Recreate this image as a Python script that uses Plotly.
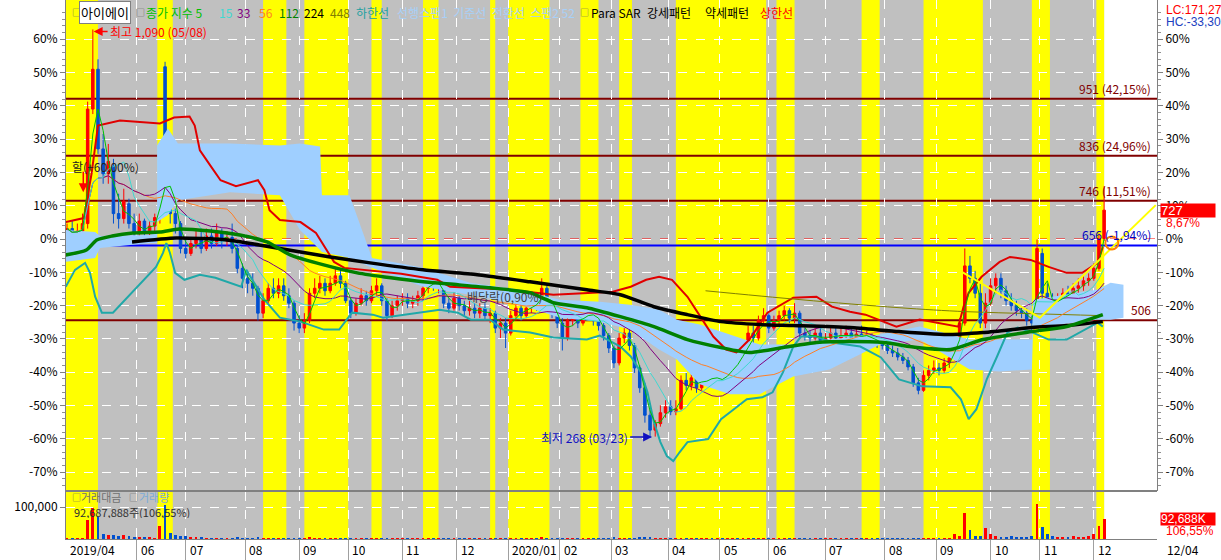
import numpy as np
import pandas as pd
import plotly.graph_objects as go

# ---------------- data ----------------
start_date = "2019-04-22"
end_date = "2020-12-04"
krx_holidays = ["2019-05-01", "2019-05-06", "2019-06-06", "2019-08-15", "2019-09-12", "2019-09-13",
                "2019-10-03", "2019-10-09", "2019-12-25", "2019-12-31", "2020-01-01", "2020-01-24",
                "2020-01-27", "2020-04-15", "2020-04-30", "2020-05-01", "2020-05-05", "2020-08-17",
                "2020-09-30", "2020-10-01", "2020-10-02", "2020-10-09"]
base_price = 669      # previous close (0 %)
last_close = 727

# two-trading-day candles (won)
opens = [665, 690, 675, 685, 700, 930, 1010, 850, 800, 815,
         720, 710, 740, 700, 680, 705, 680, 695, 712, 1015,
         820, 720, 700, 650, 640, 660, 672, 650, 675, 660,
         682, 665, 672, 650, 610, 590, 580, 570, 520, 545,
         570, 560, 575, 555, 540, 500, 490, 505, 560, 570,
         580, 565, 580, 595, 580, 545, 520, 540, 555, 545,
         565, 575, 545, 515, 535, 545, 550, 540, 545, 555,
         570, 590, 575, 580, 540, 530, 550, 535, 525, 530,
         520, 530, 515, 520, 490, 500, 480, 515, 530, 515,
         530, 545, 535, 570, 545, 520, 500, 470, 505, 510,
         500, 515, 530, 505, 495, 475, 450, 420, 470, 480,
         455, 410, 370, 315, 285, 298, 320, 332, 322, 328,
         385, 375, 390, 370, 385, 395, 385, 390, 385, 405,
         425, 420, 455, 480, 470, 505, 515, 490, 505, 515,
         525, 510, 520, 480, 475, 470, 480, 465, 470, 480,
         470, 475, 480, 470, 478, 472, 475, 465, 458, 455,
         445, 440, 432, 425, 412, 380, 365, 395, 405, 410,
         405, 420, 430, 470, 500, 615, 590, 560, 500, 540,
         575, 590, 565, 545, 535, 525, 520, 505, 500, 640,
         560, 545, 535, 550, 560, 555, 570, 575, 585, 590,
         610, 670]
highs = [700, 705, 700, 720, 945, 1090, 1030, 880, 860, 830,
         760, 770, 750, 720, 720, 710, 705, 720, 790, 1025,
         830, 730, 705, 670, 670, 690, 690, 690, 690, 700,
         690, 685, 700, 660, 620, 600, 600, 575, 560, 580,
         590, 590, 590, 570, 545, 515, 520, 570, 590, 595,
         590, 595, 610, 610, 585, 550, 550, 570, 565, 575,
         590, 580, 550, 545, 555, 560, 560, 555, 565, 580,
         600, 600, 605, 585, 550, 570, 555, 545, 545, 540,
         540, 540, 530, 525, 510, 510, 525, 545, 545, 545,
         555, 560, 590, 575, 550, 525, 510, 515, 525, 520,
         525, 540, 535, 510, 500, 480, 455, 480, 495, 490,
         460, 415, 380, 325, 305, 335, 345, 345, 345, 395,
         400, 400, 395, 395, 410, 405, 400, 398, 415, 435,
         440, 465, 495, 495, 515, 530, 520, 515, 525, 535,
         530, 540, 525, 490, 485, 490, 490, 480, 490, 490,
         490, 495, 490, 490, 495, 485, 480, 475, 468, 460,
         455, 450, 440, 432, 418, 390, 405, 415, 425, 420,
         430, 440, 480, 510, 650, 635, 605, 580, 560, 590,
         600, 600, 575, 560, 545, 535, 530, 515, 668, 650,
         580, 560, 560, 570, 575, 580, 590, 595, 600, 620,
         680, 775]
lows = [655, 665, 668, 675, 690, 920, 840, 780, 780, 700,
        690, 700, 690, 660, 670, 665, 670, 685, 700, 800,
        700, 680, 640, 630, 635, 650, 640, 645, 650, 655,
        650, 655, 640, 600, 570, 560, 555, 505, 510, 540,
        550, 550, 545, 530, 485, 480, 480, 500, 550, 560,
        555, 560, 575, 570, 540, 510, 515, 535, 535, 540,
        555, 535, 505, 510, 525, 535, 530, 530, 535, 545,
        560, 565, 560, 530, 520, 525, 525, 515, 515, 510,
        510, 505, 500, 480, 470, 450, 475, 505, 505, 510,
        520, 525, 530, 535, 510, 490, 445, 465, 495, 490,
        495, 505, 495, 485, 465, 440, 410, 415, 460, 445,
        400, 360, 300, 268, 272, 292, 310, 315, 315, 325,
        365, 365, 360, 365, 380, 375, 378, 375, 380, 400,
        410, 415, 450, 455, 465, 500, 480, 485, 495, 505,
        500, 500, 470, 465, 460, 465, 455, 430, 465, 460,
        462, 468, 460, 462, 465, 462, 455, 450, 447, 438,
        432, 425, 418, 405, 372, 357, 362, 385, 398, 395,
        400, 410, 425, 460, 495, 580, 550, 490, 490, 535,
        560, 550, 535, 525, 515, 510, 495, 485, 495, 540,
        530, 525, 530, 540, 545, 550, 560, 565, 575, 585,
        605, 665]
closes = [690, 675, 685, 700, 930, 1010, 850, 800, 825, 720,
          710, 745, 700, 680, 705, 680, 695, 712, 785, 820,
          720, 700, 650, 640, 660, 672, 650, 675, 660, 682,
          665, 672, 650, 610, 590, 580, 570, 520, 545, 570,
          560, 575, 555, 540, 500, 490, 505, 560, 570, 580,
          565, 580, 595, 580, 545, 520, 540, 555, 545, 565,
          575, 545, 515, 535, 545, 550, 540, 545, 555, 570,
          590, 575, 580, 540, 530, 550, 535, 525, 530, 520,
          530, 515, 520, 490, 500, 480, 515, 530, 515, 530,
          545, 535, 570, 545, 520, 500, 470, 505, 510, 500,
          515, 530, 505, 495, 475, 450, 420, 470, 480, 455,
          410, 370, 315, 285, 298, 320, 332, 322, 328, 385,
          375, 390, 370, 385, 395, 385, 390, 385, 405, 425,
          420, 455, 480, 470, 505, 515, 490, 505, 515, 525,
          510, 520, 480, 475, 470, 480, 465, 470, 480, 470,
          475, 480, 470, 478, 472, 475, 465, 458, 455, 445,
          440, 432, 425, 412, 380, 365, 395, 405, 410, 405,
          420, 430, 470, 500, 615, 590, 560, 500, 540, 575,
          590, 565, 545, 535, 525, 520, 505, 500, 650, 560,
          545, 535, 550, 560, 555, 570, 575, 585, 590, 610,
          669, 727]
# volume per candle, thousand shares
volumes_k = [3, 2, 2, 3, 60, 97, 69, 15, 12, 14,
             10, 12, 9, 6, 5, 4, 4, 3, 40, 106,
             20, 14, 10, 8, 6, 5, 4, 3, 3, 3,
             2, 2, 3, 4, 3, 2, 2, 4, 3, 2,
             2, 2, 2, 2, 3, 2, 2, 5, 3, 2,
             2, 2, 3, 2, 2, 2, 1, 2, 2, 2,
             2, 2, 3, 2, 1, 1, 2, 1, 2, 2,
             3, 2, 2, 2, 1, 2, 1, 1, 2, 1,
             1, 2, 1, 2, 2, 3, 2, 2, 1, 2,
             2, 2, 6, 3, 2, 2, 3, 2, 1, 1,
             1, 2, 1, 1, 2, 3, 4, 3, 2, 2,
             3, 4, 4, 5, 3, 2, 2, 2, 1, 3,
             2, 2, 1, 1, 2, 1, 1, 1, 2, 2,
             2, 3, 3, 2, 3, 2, 2, 2, 2, 2,
             2, 3, 2, 2, 1, 1, 1, 2, 1, 1,
             1, 1, 1, 1, 2, 1, 1, 1, 1, 1,
             1, 1, 1, 2, 3, 2, 2, 2, 1, 1,
             2, 2, 17, 10, 81, 28, 8, 10, 34, 15,
             8, 7, 6, 8, 5, 6, 5, 8, 109, 37,
             15, 8, 6, 7, 6, 8, 7, 6, 8, 16,
             40, 62]

# indicator lines (trading-day index, won)
bb_up_x = [0, 7, 10, 12.5, 21, 36.5, 42, 48, 50, 52, 56, 60, 66, 74.5, 77, 79, 83, 91, 97, 100.5,
           104, 108, 130, 144, 149, 172, 189, 212, 219, 225, 230, 235, 241, 246, 251, 256, 260, 265,
           272, 282, 291, 297, 304, 310, 317, 322, 331, 343, 346, 348, 350, 355, 362, 366, 374, 381,
           388, 394, 400, 402]
bb_up_y = [703, 711, 800, 897, 907, 901, 913, 915, 897, 847, 817, 787, 775, 787, 767, 727, 707, 703, 681, 653,
           623, 611, 599, 587, 573, 567, 557, 563, 573, 587, 593, 587, 553, 513, 473, 447, 441, 467,
           521, 551, 553, 533, 523, 517, 503, 493, 507, 497, 493, 533, 561, 593, 623, 633, 627, 613,
           601, 601, 621, 653]
bb_lo_x = [0, 3.6, 7.5, 9.4, 11.4, 14, 18.3, 23, 29, 35, 37.7, 39, 40.4, 42.4, 46, 52, 58, 64, 68, 70,
           73, 77, 83, 91, 100, 106, 111, 119, 123, 138.5, 145, 152, 157, 164.5, 169.5, 180, 189, 202,
           207, 215, 219, 223, 225.5, 228, 230.5, 233, 235.5, 238, 241, 249, 254, 259, 264, 270, 274,
           278, 282, 285, 291, 297, 308, 316, 323, 332, 343, 347, 350, 353, 357, 361, 365, 369, 374,
           381, 388, 400, 402]
bb_lo_y = [573, 607, 621, 601, 553, 521, 521, 547, 581, 613, 641, 661, 641, 601, 587, 597, 591, 581, 573, 607,
           581, 547, 511, 503, 487, 487, 521, 517, 511, 523, 527, 521, 507, 507, 487, 481, 471, 467,
           475, 453, 433, 401, 361, 301, 261, 233, 223, 241, 261, 267, 307, 327, 347, 351, 361,
           401, 453, 473, 473, 461, 453, 431, 387, 373, 371, 347, 307, 327, 387, 433, 481, 491, 483,
           467, 467, 501, 493]
ma112_x = [0, 8, 12, 18, 26, 36.5, 44, 56, 67.5, 78, 87, 100, 113, 126, 138.5, 152, 164.5, 180, 189, 202,
           215, 228, 241, 254, 265, 278, 291, 304, 317, 330, 343, 355.5, 374.5, 388, 402]
ma112_y = [637, 647, 667, 675, 681, 683, 689, 685, 677, 663, 637, 617, 601, 591, 583, 577, 571, 561, 541, 531,
           513, 493, 467, 451, 441, 451, 461, 463, 461, 451, 447, 467, 483, 493, 517]
ma224_x = [25.7, 43, 62.5, 75, 91, 102.5, 118, 138.5, 159.5, 180, 202, 215, 228, 241, 254, 269, 282, 304,
           323, 343, 355.5, 374.5, 388, 402]
ma224_y = [663, 671, 667, 657, 643, 633, 621, 607, 597, 583, 567, 557, 533, 517, 503, 497, 495, 491,
           483, 477, 481, 491, 495, 503]
ma448_x = [248, 285, 323, 349, 374.5, 402]
ma448_y = [565, 547, 531, 523, 519, 515]
cloud_x = [35.4, 39.6, 43.5, 63.7, 83, 90.8, 98.6, 99.3, 110, 118.7, 138.5, 156.7, 176, 191.6, 207, 218.7,
           230, 236.9, 245.8, 257.5, 269, 282, 296, 315.6, 331, 350.4, 362, 374.5, 375, 399.7, 405, 410]
cloud_top = [857, 891, 861, 861, 857, 861, 855, 757, 757, 631, 611, 581, 567, 547, 543, 537,
             527, 507, 497, 477, 457, 457, 467, 477, 493, 467, 467, 467, 547, 567, 581, 577]
cloud_bot = [703, 717, 747, 763, 757, 687, 647, 643, 631, 611, 573, 557, 537, 511, 503, 487,
             447, 427, 377, 357, 357, 393, 407, 457, 467, 407, 403, 407, 491, 507, 507, 511]
cloud0_x = [0, 11.4, 13.3, 32.7, 35.4]
cloud0_top = [687, 683, 675, 677, 683]
cloud0_bot = [623, 631, 651, 661, 661]
trend_x = [346, 377.6, 422.5]
trend_y = [607, 511, 737]

# yellow / gray regime periods (trading-day index, inclusive)
yellow_start = [0, 36, 77, 93, 119, 139, 165, 172, 200, 215, 237, 276, 309, 333, 375, 400]
yellow_end = [12, 41, 85, 109, 122, 144, 166, 187, 206, 219, 271, 282, 315, 355, 381, 402]

hline_prices = [951, 836, 746, 656, 506]
hline_labels = ["951 (42,15%)", "836 (24,96%)", "746 (11,51%)", "656 (-1,94%)", "506"]
pct_ticks = list(range(60, -80, -10))

# ---------------- helpers ----------------
FONT = "Noto Sans CJK KR, Noto Sans, sans-serif"
NUMFONT = "Liberation Sans, Arial, sans-serif"
W, H = 1221, 560
ML, MR, MT, MB = 66, 64, 0, 21
PW, PH = W - ML - MR, H - MT - MB
px_per_pct10 = 33.3


def pxx(px):
    return (px - ML) / PW


def pxy(py):
    return (H - MB - py) / PH


won_per_px = base_price * 0.10 / px_per_pct10
y_hi = base_price + 239 * won_per_px
y_lo = base_price - 251 * won_per_px
vol_top = 100000 / ((539 - 507) / 47)
X_RANGE = [0.1, 423.0]

days = pd.bdate_range(start_date, end_date)
days = days[~days.isin(pd.to_datetime(krx_holidays))]
n_days = len(days)
ms = pd.Series(np.arange(n_days), index=days).groupby([days.year, days.month]).first()
month_ticks, month_labels = [], []
for (yr, mo), i in ms.items():
    if (yr, mo) == (2019, 5):
        continue
    month_ticks.append(i - 0.5)
    month_labels.append(f"{yr}/{mo:02d}" if (i == 0 or mo == 1) else f"{mo:02d}")

n = len(closes)
cx = np.arange(n) * 2 + 0.5
cs = pd.Series(closes, dtype=float)

fig = go.Figure()

# cloud
for xs, tp, bt in [(cloud0_x, cloud0_top, cloud0_bot), (cloud_x, cloud_top, cloud_bot)]:
    fig.add_trace(go.Scatter(x=list(xs) + list(xs)[::-1], y=list(tp) + list(bt)[::-1], fill="toself",
                             fillcolor="#9fcfff", line=dict(width=0), mode="lines", hoverinfo="skip",
                             xaxis="x", yaxis="y"))

# candles
fig.add_trace(go.Candlestick(x=cx, open=opens, high=highs, low=lows, close=closes,
                             increasing=dict(line=dict(color="#ff0000", width=1), fillcolor="#ff0000"),
                             decreasing=dict(line=dict(color="#0050d0", width=1), fillcolor="#0050d0"),
                             whiskerwidth=0, xaxis="x", yaxis="y", hoverinfo="skip"))

# bands
fig.add_trace(go.Scatter(x=bb_lo_x, y=bb_lo_y, mode="lines", line=dict(color="#20a8a8", width=2),
                         xaxis="x", yaxis="y"))
fig.add_trace(go.Scatter(x=bb_up_x, y=bb_up_y, mode="lines", line=dict(color="#e00000", width=2),
                         xaxis="x", yaxis="y"))
fig.add_trace(go.Scatter(x=ma448_x, y=ma448_y, mode="lines", line=dict(color="#808000", width=1, shape="spline"),
                         xaxis="x", yaxis="y"))
# short moving averages computed from closes
for win, col in [(28, "#ff7f27"), (16, "#800080"), (8, "#40d8d0"), (3, "#00c000")]:
    fig.add_trace(go.Scatter(x=cx, y=cs.rolling(win, min_periods=1).mean(), mode="lines",
                             line=dict(color=col, width=1), xaxis="x", yaxis="y"))
fig.add_trace(go.Scatter(x=ma224_x, y=ma224_y, mode="lines",
                         line=dict(color="#000000", width=3.5, shape="spline", smoothing=0.6), xaxis="x", yaxis="y"))
fig.add_trace(go.Scatter(x=ma112_x, y=ma112_y, mode="lines",
                         line=dict(color="#008000", width=3.5, shape="spline", smoothing=0.6), xaxis="x", yaxis="y"))
fig.add_trace(go.Scatter(x=trend_x, y=trend_y, mode="lines", line=dict(color="#ffff00", width=2),
                         xaxis="x", yaxis="y"))
fig.add_trace(go.Scatter(x=[405.5], y=[hline_prices[3] + 5], mode="markers",
                         marker=dict(symbol="circle-open", size=13, color="#ff8000", line=dict(width=2)),
                         xaxis="x", yaxis="y"))
fig.add_trace(go.Scatter(x=[cx[0]], y=[base_price], mode="markers", marker=dict(opacity=0),
                         xaxis="x", yaxis="y3", hoverinfo="skip"))

# volume
vcol = ["#ff0000" if c >= o else "#0050d0" for o, c in zip(opens, closes)]
fig.add_trace(go.Bar(x=cx, y=[v * 1000 for v in volumes_k], marker=dict(color=vcol, line=dict(width=0)),
                     width=1.1, xaxis="x2", yaxis="y2"))

# ---------------- shapes ----------------
shapes = [dict(type="rect", xref="x", yref="paper", x0=-1, x1=n_days - 0.5, y0=0, y1=1,
               fillcolor="#c0c0c0", line=dict(width=0), layer="below")]
for s, e in zip(yellow_start, yellow_end):
    shapes.append(dict(type="rect", xref="x", yref="paper", x0=s - 0.5, x1=e + 0.5, y0=0, y1=1,
                       fillcolor="#ffff00", line=dict(width=0), layer="below"))
shapes.append(dict(type="rect", xref="paper", yref="paper", x0=0, x1=1, y0=pxy(492), y1=pxy(490),
                   fillcolor="white", line=dict(width=0), layer="below"))
for p in hline_prices:
    col = "#0000ff" if p == 656 else "#800000"
    shapes.append(dict(type="line", xref="paper", yref="y", x0=0, x1=1, y0=p, y1=p,
                       line=dict(color=col, width=2), layer="between"))
shapes.append(dict(type="line", xref="paper", yref="y", x0=0, x1=1, y0=base_price, y1=base_price,
                   line=dict(color="#ff0000", width=1, dash="dash"), layer="between"))

# ---------------- annotations ----------------
ann = []


def txt(px, py, s, color, size=12, anchor="left", family=FONT, **kw):
    d = dict(xref="paper", yref="paper", x=pxx(px), y=pxy(py), text=s, showarrow=False,
             xanchor=anchor, yanchor="middle", font=dict(family=family, size=size, color=color))
    d.update(kw)
    return d


# top legend
ann.append(txt(70, 12, "□", "#606060", size=9))
ann.append(txt(79, 12, "아이에이", "#000000", size=13, bgcolor="white", bordercolor="#808080",
               borderwidth=1, borderpad=1))
ann.append(txt(134, 12, "□", "#606060", size=9))
for px, s, c in [(144, "종가 지수 5", "#00c000"), (217, "15", "#40d8d0"), (235, "33", "#800080"),
                 (257, "56", "#ff7f27"), (277, "112", "#008000"), (302, "224", "#000000"),
                 (328, "448", "#808000"), (354, "하한선", "#20a0a0"),
                 (395, "선행스팬1  기준선  전환선  스팬2 52", "#a8d0f8"),
                 (589, "Para SAR", "#000000"), (645, "강세패턴", "#000000"), (703, "약세패턴", "#000000"),
                 (758, "상한선", "#ff0000")]:
    ann.append(txt(px, 12, s, c))
ann.append(txt(578, 12, "□", "#606060", size=9))
ann.append(txt(1164, 10, "LC:171,27", "#ff0000", size=12, family=NUMFONT, height=12))
ann.append(txt(1164, 22, "HC:-33,30", "#2040c0", size=12, family=NUMFONT, height=12))

# volume legend
ann.append(txt(70, 497, "□", "#606060", size=9, height=12))
ann.append(txt(79, 497, "거래대금", "#707070", size=11, height=12))
ann.append(txt(127, 497, "□", "#606060", size=9, height=12))
ann.append(txt(137, 497, "거래량", "#7aaad8", size=11, height=12))
ann.append(txt(72, 512, "92,687,888주(106,55%)", "#303030", size=11, height=12))

# price line labels
for p, lab in zip(hline_prices, hline_labels):
    col = "#0000c0" if p == 656 else "#800000"
    ann.append(dict(xref="paper", yref="y", x=pxx(1153), y=p, text=lab, showarrow=False, xanchor="right",
                    yanchor="bottom", font=dict(family=FONT, size=12, color=col)))

# right side current value boxes
ann.append(dict(xref="paper", yref="y", x=pxx(1160), y=last_close, text="727", showarrow=False,
                xanchor="left", yanchor="middle", align="left", bgcolor="#ff0000", width=54, height=13,
                borderpad=0, font=dict(family=NUMFONT, size=13, color="white")))
ann.append(dict(xref="paper", yref="y", x=pxx(1164), y=last_close, yshift=-13, text="8,67%", showarrow=False,
                xanchor="left", yanchor="middle", height=12,
                font=dict(family=NUMFONT, size=12, color="#ff0000")))
ann.append(dict(xref="paper", yref="y2", x=pxx(1160), y=volumes_k[-1] * 1000, text="92,688K", showarrow=False,
                xanchor="left", yanchor="middle", align="left", bgcolor="#ff0000", width=54, height=12,
                borderpad=0, font=dict(family=NUMFONT, size=12, color="white")))
ann.append(dict(xref="paper", yref="y2", x=pxx(1164), y=volumes_k[-1] * 1000, yshift=-12, text="106,55%",
                showarrow=False, xanchor="left", yanchor="middle", height=12,
                font=dict(family=NUMFONT, size=12, color="#ff0000")))

# chart notes
ann.append(dict(xref="x", yref="y", x=10.8, y=1086, text="최고 1,090 (05/08)", showarrow=True, ax=14, ay=0,
                xanchor="left", arrowhead=2, arrowsize=1.2, arrowwidth=1.5, arrowcolor="#ff0000",
                font=dict(family=FONT, size=12, color="#ff0000")))
ann.append(dict(xref="x", yref="y", x=1.5, y=815, text="할(+60,00%)", showarrow=False, xanchor="left",
                yanchor="middle", font=dict(family=FONT, size=12, color="#202020")))
ann.append(dict(xref="x", yref="y", x=6.8, y=763, text="", showarrow=True, ax=0, ay=-22, arrowhead=2,
                arrowsize=1.2, arrowwidth=1.5, arrowcolor="#ff0000"))
ann.append(dict(xref="x", yref="y", x=227.3, y=271, text="최저 268 (03/23)", showarrow=True, ax=-22, ay=0,
                xanchor="right", arrowhead=2, arrowsize=1.2, arrowwidth=1.5, arrowcolor="#1010c0",
                font=dict(family=FONT, size=12, color="#1010c0")))
ann.append(dict(xref="x", yref="y", x=154.8, y=553, text="배당락(0,90%)", showarrow=False, xanchor="left",
                yanchor="middle", font=dict(family=FONT, size=12, color="#404040")))

# x-axis month labels
for t, lab in zip(month_ticks, month_labels):
    ann.append(dict(xref="x2", yref="paper", x=max(t, X_RANGE[0] + 0.1), y=pxy(549), xshift=2, text=lab,
                    showarrow=False, xanchor="left", yanchor="middle", height=14,
                    font=dict(family=FONT, size=12, color="#000000")))
ann.append(txt(1165, 549, "12/04", "#000000", height=14))

# ---------------- axes ----------------
tickvals = [base_price * (1 + p / 100) for p in pct_ticks]
ticktext = [f"{p}%" for p in pct_ticks]
minor_vals = [base_price * (1 + p / 100) for p in range(-74, 71, 2) if p % 10 != 0]
yax_common = dict(range=[y_lo, y_hi], tickvals=tickvals, ticktext=ticktext, ticks="outside", ticklen=5,
                  tickcolor="#808080", zeroline=False, showline=True, linecolor="#808080", automargin=False,
                  tickfont=dict(family=FONT, size=12, color="black"),
                  minor=dict(tickvals=minor_vals, ticks="outside", ticklen=3, tickcolor="#909090", showgrid=False))

fig.update_layout(
    width=W, height=H, margin=dict(l=ML, r=MR, t=MT, b=MB, pad=0, autoexpand=False),
    paper_bgcolor="white", plot_bgcolor="white", showlegend=False,
    font=dict(family=FONT, size=12, color="black"),
    bargap=0,
    xaxis=dict(domain=[0, 1], anchor="y", range=X_RANGE, tickvals=month_ticks, showticklabels=False,
               ticks="", showgrid=True, gridcolor="white", griddash="dash", zeroline=False, showline=True,
               linecolor="#808080", mirror=True, automargin=False, rangeslider=dict(visible=False)),
    yaxis=dict(domain=[pxy(490), 1], anchor="x", side="left", showgrid=True, gridcolor="white",
               griddash="dash", **yax_common),
    yaxis3=dict(overlaying="y", anchor="x", side="right", showgrid=False, **yax_common),
    xaxis2=dict(domain=[0, 1], anchor="y2", matches="x", range=X_RANGE, tickvals=month_ticks,
                showticklabels=False, ticks="outside", ticklen=20, tickcolor="#a0a0a0", showgrid=True,
                gridcolor="white", griddash="dash", zeroline=False, showline=True, linecolor="#808080",
                mirror=True, automargin=False),
    yaxis2=dict(domain=[0, pxy(492)], anchor="x2", range=[0, vol_top], tickvals=[100000],
                ticktext=["100,000"], ticks="outside", ticklen=5, tickcolor="#808080", showgrid=True,
                gridcolor="white", griddash="dash", zeroline=False, showline=True, linecolor="#808080",
                automargin=False, tickfont=dict(family=FONT, size=12, color="black")),
    shapes=shapes, annotations=ann,
)

fig.write_html("out.html", config={"displayModeBar": False},
               post_script="document.body.style.margin='0px';document.body.style.padding='0px';")
